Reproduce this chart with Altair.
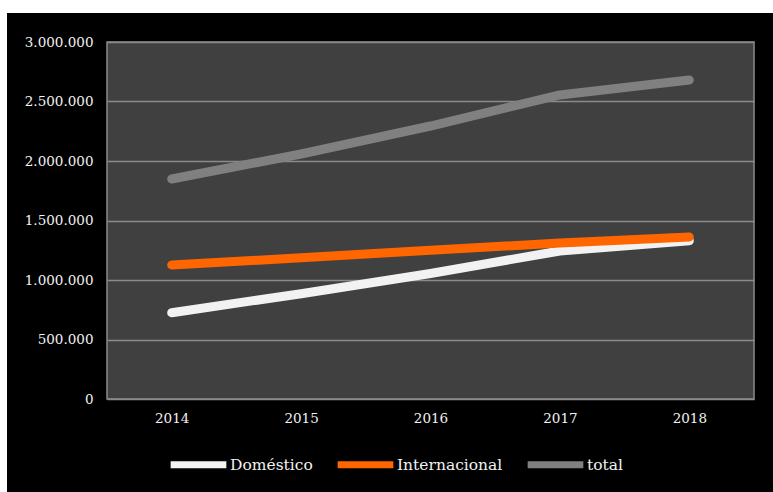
import altair as alt
import pandas as pd

years = ["2014", "2015", "2016", "2017", "2018"]
domestico = [725000, 885000, 1055000, 1244000, 1330000]
internacional = [1126000, 1187000, 1250000, 1311000, 1361000]
total = [1849000, 2059000, 2294000, 2555000, 2681000]
series_names = ["Doméstico", "Internacional", "total"]
series_colors = ["#f2f2f2", "#ff6600", "#808080"]
y_ticks = [0, 500000, 1000000, 1500000, 2000000, 2500000, 3000000]

rows = []
for name, vals in zip(series_names, [domestico, internacional, total]):
    for yr, v in zip(years, vals):
        rows.append({"year": yr, "value": v, "serie": name})
df = pd.DataFrame(rows)

FONT = "DejaVu Serif"
W, H = 647, 357

# white strips at top and left of the page (outside the black chart frame)
strip_top = alt.Chart(pd.DataFrame({"a": [0]})).mark_rect(color="white", clip=False).encode(
    x=alt.value(-107), x2=alt.value(666), y=alt.value(-42), y2=alt.value(-29)
)
strip_left = alt.Chart(pd.DataFrame({"a": [0]})).mark_rect(color="white", clip=False).encode(
    x=alt.value(-107), x2=alt.value(-100), y=alt.value(-42), y2=alt.value(450)
)

lines = alt.Chart(df).mark_line(strokeWidth=9, strokeCap="round", strokeJoin="round").encode(
    x=alt.X("year:N", sort=years, title=None,
            scale=alt.Scale(paddingOuter=0.5),
            axis=alt.Axis(labelAngle=0, labelPadding=12, ticks=False, domain=False,
                          labelColor="#f2f2f2", labelFont=FONT, labelFontSize=13.5, grid=False)),
    y=alt.Y("value:Q", title=None,
            scale=alt.Scale(domain=[0, 3000000], nice=False),
            axis=alt.Axis(values=y_ticks, labelPadding=14, ticks=False, domain=False,
                          labelColor="#f2f2f2", labelFont=FONT, labelFontSize=13.5,
                          grid=True, gridColor="#8a8a8a", gridWidth=1.5,
                          labelExpr="replace(replace(format(datum.value, ','), ',', '.'), ',', '.')")),
    color=alt.Color("serie:N", sort=series_names,
                    scale=alt.Scale(domain=series_names, range=series_colors),
                    legend=alt.Legend(title=None, orient="none", direction="horizontal",
                                      legendX=60, legendY=391,
                                      symbolType="stroke", symbolSize=3100, symbolStrokeWidth=7,
                                      labelColor="#f2f2f2", labelFont=FONT, labelFontSize=15.5,
                                      labelOffset=0, columnPadding=10)),
)

chart = alt.layer(strip_top, strip_left, lines).properties(
    width=W, height=H,
    background="black",
    padding={"left": 107, "top": 42, "right": 19, "bottom": 93},
    autosize=alt.AutoSizeParams(type="none"),
).configure_view(fill="#404040", stroke="#8a8a8a", strokeWidth=1.5)

chart.save("out.html", embed_options={"renderer": "svg", "actions": False})
